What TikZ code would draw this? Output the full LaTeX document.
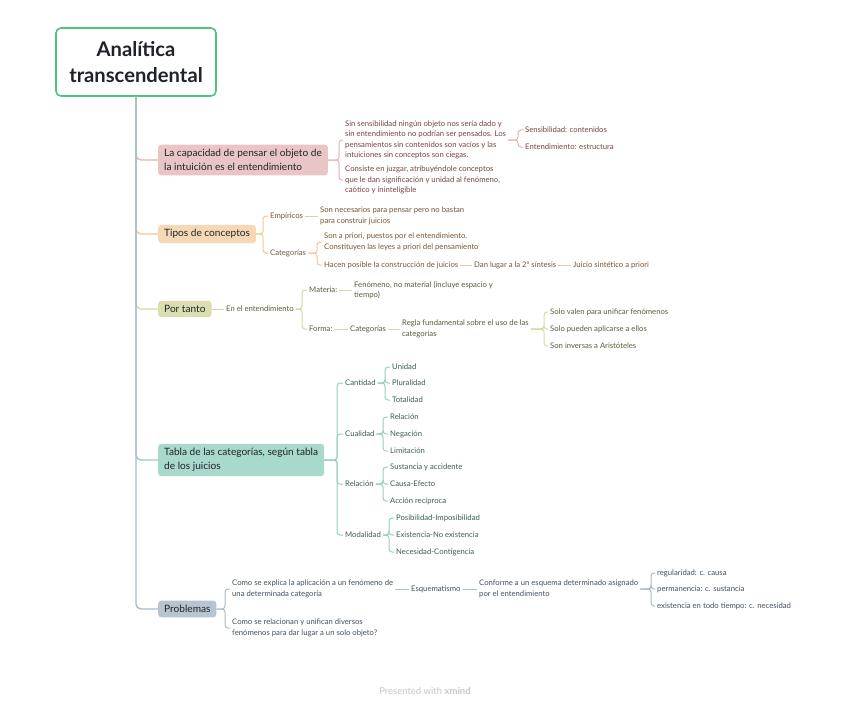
\documentclass[tikz,border=0pt]{standalone}
\usepackage{fontspec}
\setmainfont{Lato}
\usetikzlibrary{calc}
\definecolor{rootgreen}{HTML}{4CC77A}
\definecolor{titlecol}{HTML}{1F2329}
\definecolor{fill1}{HTML}{E9C6C5}
\definecolor{line1}{HTML}{E6B5B1}
\definecolor{txt1}{HTML}{7A4242}
\definecolor{fill2}{HTML}{F6D8B6}
\definecolor{line2}{HTML}{F2C79C}
\definecolor{txt2}{HTML}{7A5533}
\definecolor{fill3}{HTML}{DDDDAF}
\definecolor{line3}{HTML}{D7D8A2}
\definecolor{txt3}{HTML}{5C5C3A}
\definecolor{fill4}{HTML}{A9D9CD}
\definecolor{line4}{HTML}{98D1C2}
\definecolor{txt4}{HTML}{3E5C55}
\definecolor{fill5}{HTML}{B7C4D2}
\definecolor{line5}{HTML}{A9BBCC}
\definecolor{txt5}{HTML}{43515E}
\definecolor{footcol}{HTML}{C6C6C6}
\tikzset{
  rootbox/.style={draw=rootgreen, line width=1.6pt, rounded corners=5pt, fill=white,
    minimum width=160pt, minimum height=68pt, align=center,
    font=\fontsize{20.2}{26}\selectfont\bfseries, text=titlecol},
  topic/.style={rounded corners=3pt, anchor=west, align=left, inner xsep=6pt,
    inner ysep=4.5pt, font=\fontsize{10.1}{14}\selectfont, text=titlecol},
  sub/.style={anchor=west, align=left, inner xsep=2pt, inner ysep=1pt,
    font=\fontsize{7.7}{10.5}\selectfont},
  t1/.style={sub, text=txt1}, t2/.style={sub, text=txt2}, t3/.style={sub, text=txt3},
  t4/.style={sub, text=txt4}, t5/.style={sub, text=txt5},
  l1/.style={draw=line1, line width=1pt, rounded corners=3pt},
  l2/.style={draw=line2, line width=1pt, rounded corners=3pt},
  l3/.style={draw=line3, line width=1pt, rounded corners=3pt},
  l4/.style={draw=line4, line width=1pt, rounded corners=3pt},
  l5/.style={draw=line5, line width=1pt, rounded corners=3pt},
  trunk/.style={line width=1.4pt, rounded corners=5pt},
}
\begin{document}
\begin{tikzpicture}[x=1pt,y=-1pt]
\useasboundingbox[fill=white] (0,0) rectangle (848,706);

% root and main topics
\node[rootbox] (root) at (136,62) {Analítica\\transcendental};
\node[topic, fill=fill1] (m1) at (158,160) {La capacidad de pensar el objeto de\\la intuición es el entendimiento};
\node[topic, fill=fill2] (m2) at (158,234) {Tipos de conceptos};
\node[topic, fill=fill3] (m3) at (158,309) {Por tanto};
\node[topic, fill=fill4] (m4) at (158,460) {Tabla de las categorías, según tabla\\de los juicios};
\node[topic, fill=fill5] (m5) at (158,609) {Problemas};

\draw[trunk, draw=line1] (root.south) |- (m1.west);
\draw[trunk, draw=line2] (root.south) |- (m2.west);
\draw[trunk, draw=line3] (root.south) |- (m3.west);
\draw[trunk, draw=line4] (root.south) |- (m4.west);
\draw[trunk, draw=line5] (root.south) |- (m5.west);

% branch 1
\node[t1] (b1a) at (343,140) {Sin sensibilidad ningún objeto nos sería dado y\\sin entendimiento no podrían ser pensados. Los\\pensamientos sin contenidos son vacíos y las\\intuiciones sin conceptos son ciegas.};
\node[t1] (b1b) at (343,180) {Consiste en juzgar, atribuyéndole conceptos\\que le dan significación y unidad al fenómeno,\\caótico y ininteligible};
\node[t1] (b1a1) at (523,130) {Sensibilidad: contenidos};
\node[t1] (b1a2) at (523,147) {Entendimiento: estructura};
\draw[l1] (m1.east) -| ([xshift=-4pt]b1a.west) -- (b1a.west);
\draw[l1] (m1.east) -| ([xshift=-4pt]b1b.west) -- (b1b.west);
\draw[l1] (b1a.east) -| ([xshift=-5pt]b1a1.west) -- (b1a1.west);
\draw[l1] (b1a.east) -| ([xshift=-5pt]b1a2.west) -- (b1a2.west);

% branch 2
\node[t2] (b2a) at (268,216) {Empíricos};
\node[t2] (b2b) at (268,253) {Categorías};
\node[t2] (b2a1) at (318,216) {Son necesarios para pensar pero no bastan\\para construir juicios};
\node[t2] (b2b1) at (322,242) {Son a priori, puestos por el entendimiento.\\Constituyen las leyes a priori del pensamiento};
\node[t2] (b2b2) at (322,265) {Hacen posible la construcción de juicios};
\node[t2] (b2b3) at (472,265) {Dan lugar a la 2ª síntesis};
\node[t2] (b2b4) at (571,265) {Juicio sintético a priori};
\draw[l2] (m2.east) -| ([xshift=-5pt]b2a.west) -- (b2a.west);
\draw[l2] (m2.east) -| ([xshift=-5pt]b2b.west) -- (b2b.west);
\draw[l2] (b2a.east) -- (b2a1.west);
\draw[l2] (b2b.east) -| ([xshift=-5pt]b2b1.west) -- (b2b1.west);
\draw[l2] (b2b.east) -| ([xshift=-5pt]b2b2.west) -- (b2b2.west);
\draw[l2] (b2b2.east) -- (b2b3.west);
\draw[l2] (b2b3.east) -- (b2b4.west);

% branch 3
\node[t3] (b3a) at (224,309) {En el entendimiento};
\node[t3] (b3b) at (307,290) {Materia:};
\node[t3] (b3c) at (307,329) {Forma:};
\node[t3] (b3b1) at (352,290) {Fenómeno, no material (incluye espacio y\\tiempo)};
\node[t3] (b3c1) at (348,329) {Categorías};
\node[t3] (b3c2) at (400,329) {Regla fundamental sobre el uso de las\\categorías};
\node[t3] (b3c3) at (548,312) {Solo valen para unificar fenómenos};
\node[t3] (b3c4) at (548,329) {Solo pueden aplicarse a ellos};
\node[t3] (b3c5) at (548,346) {Son inversas a Aristóteles};
\draw[l3] (m3.east) -- (b3a.west);
\draw[l3] (b3a.east) -| ([xshift=-5pt]b3b.west) -- (b3b.west);
\draw[l3] (b3a.east) -| ([xshift=-5pt]b3c.west) -- (b3c.west);
\draw[l3] (b3b.east) -- (b3b1.west);
\draw[l3] (b3c.east) -- (b3c1.west);
\draw[l3] (b3c1.east) -- (b3c2.west);
\draw[l3] (b3c2.east) -| ([xshift=-4pt]b3c3.west) -- (b3c3.west);
\draw[l3] (b3c2.east) -| ([xshift=-4pt]b3c4.west) -- (b3c4.west);
\draw[l3] (b3c2.east) -| ([xshift=-4pt]b3c5.west) -- (b3c5.west);

% branch 4
\node[t4] (c1) at (343,383) {Cantidad};
\node[t4] (c2) at (343,434) {Cualidad};
\node[t4] (c3) at (343,484) {Relación};
\node[t4] (c4) at (343,535) {Modalidad};
\node[t4] (c1a) at (390,367) {Unidad};
\node[t4] (c1b) at (390,383) {Pluralidad};
\node[t4] (c1c) at (390,400) {Totalidad};
\node[t4] (c2a) at (388,417) {Relación};
\node[t4] (c2b) at (388,434) {Negación};
\node[t4] (c2c) at (388,451) {Limitación};
\node[t4] (c3a) at (388,467) {Sustancia y accidente};
\node[t4] (c3b) at (388,484) {Causa-Efecto};
\node[t4] (c3c) at (388,501) {Acción recíproca};
\node[t4] (c4a) at (394,518) {Posibilidad-Imposibilidad};
\node[t4] (c4b) at (394,535) {Existencia-No existencia};
\node[t4] (c4c) at (394,552) {Necesidad-Contigencia};
\foreach \c in {c1,c2,c3,c4}
  \draw[l4] (m4.east) -| ([xshift=-6pt]\c.west) -- (\c.west);
\foreach \p/\c in {c1/c1a,c1/c1b,c1/c1c,c2/c2a,c2/c2b,c2/c2c,c3/c3a,c3/c3b,c3/c3c,c4/c4a,c4/c4b,c4/c4c}
  \draw[l4] (\p.east) -| ([xshift=-5pt]\c.west) -- (\c.west);

% branch 5
\node[t5] (p1) at (230,589) {Como se explica la aplicación a un fenómeno de\\una determinada categoría};
\node[t5] (p2) at (230,628) {Como se relacionan y unifican diversos\\fenómenos para dar lugar a un solo objeto?};
\node[t5] (p1a) at (409,589) {Esquematismo};
\node[t5] (p1b) at (477,589) {Conforme a un esquema determinado asignado\\por el entendimiento};
\node[t5] (p1c1) at (655,573) {regularidad: c. causa};
\node[t5] (p1c2) at (655,589) {permanencia: c. sustancia};
\node[t5] (p1c3) at (655,606) {existencia en todo tiempo: c. necesidad};
\draw[l5] (m5.east) -| ([xshift=-5pt]p1.west) -- (p1.west);
\draw[l5] (m5.east) -| ([xshift=-5pt]p2.west) -- (p2.west);
\draw[l5] (p1.east) -- (p1a.west);
\draw[l5] (p1a.east) -- (p1b.west);
\foreach \c in {p1c1,p1c2,p1c3}
  \draw[l5] (p1b.east) -| ([xshift=-4pt]\c.west) -- (\c.west);

% footer
\node[font=\fontsize{9.5}{11}\selectfont, text=footcol] (foot) at (425,691) {Presented with \textbf{xmind}};
\end{tikzpicture}
\end{document}
